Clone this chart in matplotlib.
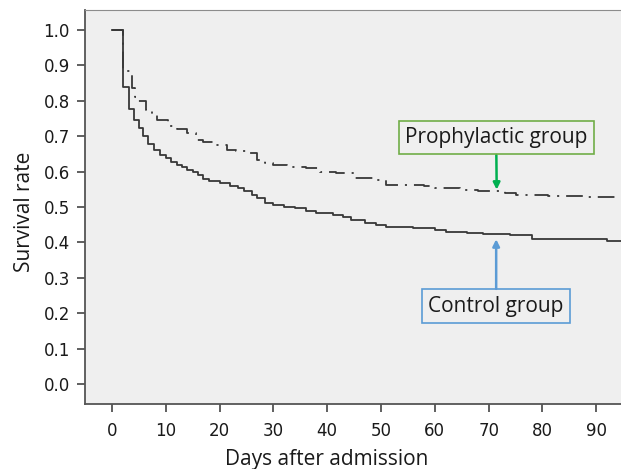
"""Kaplan-Meier style survival curves: prophylactic vs control group."""
import matplotlib

matplotlib.use("Agg")
import matplotlib.pyplot as plt  # noqa: E402

# step times (days) and survival rate after each step
control_days = [0, 2.0, 3.2, 4.0, 5.0, 5.8, 6.75, 7.9, 9, 10, 11, 12, 13, 14, 15,
                16, 17, 18, 20, 22, 23.5, 24.5, 26, 27, 28.5, 30, 32, 34, 36, 38,
                41, 43, 44.5, 47, 49, 51, 56, 60, 62, 66, 69, 74, 78, 92, 95]
control_surv = [1.0, 0.838, 0.778, 0.747, 0.723, 0.700, 0.679, 0.660, 0.648,
                0.637, 0.628, 0.620, 0.612, 0.605, 0.598, 0.590, 0.580, 0.573,
                0.567, 0.560, 0.553, 0.546, 0.535, 0.525, 0.512, 0.505, 0.500,
                0.496, 0.490, 0.484, 0.478, 0.472, 0.463, 0.455, 0.448, 0.443,
                0.440, 0.434, 0.430, 0.427, 0.424, 0.420, 0.410, 0.403, 0.403]

prophy_days = [0, 2.0, 3.8, 4.3, 4.9, 6.4, 7.5, 8.3, 10.5, 12, 13.9, 15.7, 17,
               18.8, 21.3, 23, 25, 26.9, 28.5, 30, 32.5, 36, 38.6, 41.7, 44.9,
               48.5, 51, 58, 60, 64.7, 68, 73, 75, 81, 88, 95]
prophy_surv = [1.0, 0.883, 0.836, 0.810, 0.800, 0.775, 0.760, 0.747, 0.728,
               0.720, 0.710, 0.690, 0.683, 0.676, 0.662, 0.657, 0.653, 0.634,
               0.625, 0.620, 0.613, 0.610, 0.600, 0.596, 0.583, 0.577, 0.563,
               0.558, 0.555, 0.549, 0.544, 0.540, 0.535, 0.532, 0.528, 0.528]

x_ticks = [0, 10, 20, 30, 40, 50, 60, 70, 80, 90]
y_ticks = [0.0, 0.1, 0.2, 0.3, 0.4, 0.5, 0.6, 0.7, 0.8, 0.9, 1.0]

plt.rcParams["lines.scale_dashes"] = False
label_font = "Open Sans"

fig = plt.figure(figsize=(6.21, 4.69), dpi=100)
ax = fig.add_axes([0.137, 0.1386, 0.863, 0.84])
ax.set_facecolor("#efefef")

ax.step(control_days, control_surv, where="post", color="#383838", linewidth=1.3)
ax.step(prophy_days, prophy_surv, where="post", color="#383838", linewidth=1.3,
        linestyle=(0, (12, 5, 1.5, 5)))

ax.set_xlim(-5, 94.6)
ax.set_ylim(-0.056, 1.056)
ax.set_xticks(x_ticks)
ax.set_yticks(y_ticks)
ax.set_yticklabels([f"{v:.1f}" for v in y_ticks])
ax.tick_params(axis="both", labelsize=12, color="#444444", width=1.2, length=6,
               labelcolor="#1a1a1a")
ax.tick_params(axis="x", pad=7)
ax.tick_params(axis="y", pad=5)

for side in ("left", "bottom"):
    ax.spines[side].set_color("#555555")
    ax.spines[side].set_linewidth(1.3)
ax.spines["top"].set_color("#8c8c8c")
ax.spines["right"].set_visible(False)

ax.set_xlabel("Days after admission", fontsize=15, family=label_font, color="#1a1a1a")
ax.set_ylabel("Survival rate", fontsize=15, family=label_font, color="#1a1a1a")
ax.xaxis.set_label_coords(0.4515, -0.113)
ax.yaxis.set_label_coords(-0.093, 0.487)

# annotation boxes with arrows
ax.annotate("Prophylactic group", xy=(71.5, 0.549), xytext=(71.4, 0.696),
            ha="center", va="center", fontsize=15, family=label_font, color="#1a1a1a",
            bbox=dict(boxstyle="square,pad=0.3", fc="none", ec="#70ad47", lw=1.2),
            arrowprops=dict(arrowstyle="-|>", color="#00b050", lw=1.8,
                            mutation_scale=10, shrinkA=0, shrinkB=0))
ax.annotate("Control group", xy=(71.4, 0.409), xytext=(71.4, 0.22),
            ha="center", va="center", fontsize=15, family=label_font, color="#1a1a1a",
            bbox=dict(boxstyle="square,pad=0.3", fc="none", ec="#5b9bd5", lw=1.2),
            arrowprops=dict(arrowstyle="-|>", color="#5b9bd5", lw=1.8,
                            mutation_scale=10, shrinkA=0, shrinkB=0))

fig.savefig("out.png", dpi=100)
plt.close(fig)
